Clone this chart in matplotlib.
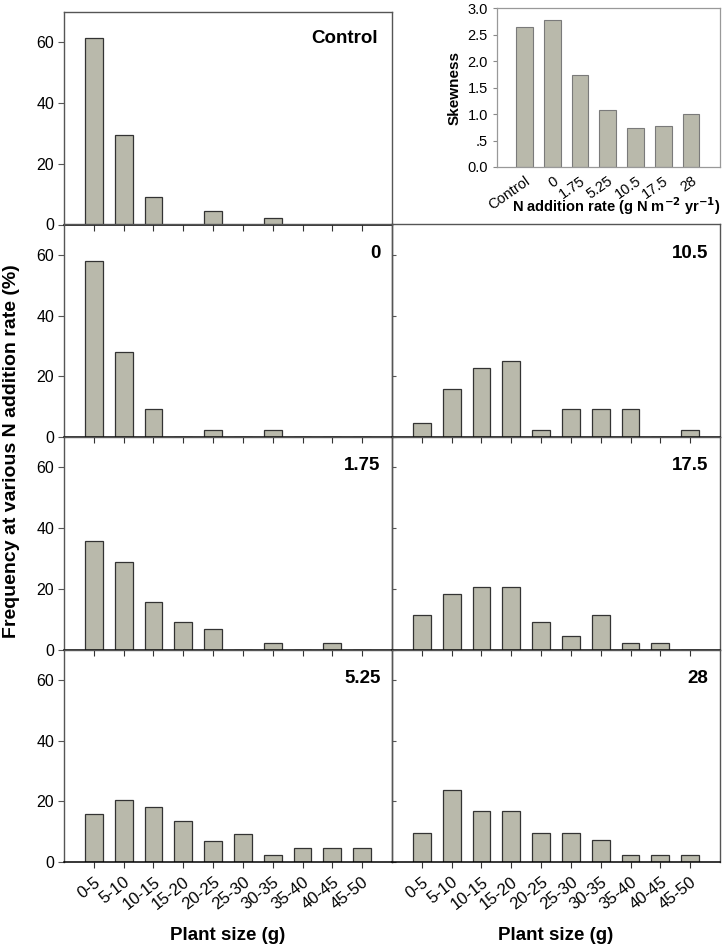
import matplotlib
matplotlib.use("Agg")
import matplotlib.pyplot as plt
import numpy as np

plt.rcParams['font.family'] = ['Liberation Sans', 'DejaVu Sans']

size_classes = ["0-5", "5-10", "10-15", "15-20", "20-25", "25-30",
                "30-35", "35-40", "40-45", "45-50"]

freq_control = [61.4, 29.5, 9.1, 0, 4.5, 0, 2.3, 0, 0, 0]
freq_0 = [58.1, 27.9, 9.3, 0, 2.3, 0, 2.3, 0, 0, 0]
freq_1_75 = [35.6, 28.9, 15.6, 8.9, 6.7, 0, 2.2, 0, 2.2, 0]
freq_5_25 = [15.9, 20.5, 18.2, 13.6, 6.8, 9.1, 2.3, 4.5, 4.5, 4.5]
freq_10_5 = [4.5, 15.9, 22.7, 25.0, 2.3, 9.1, 9.1, 9.1, 0, 2.3]
freq_17_5 = [11.4, 18.2, 20.5, 20.5, 9.1, 4.5, 11.4, 2.3, 2.3, 0]
freq_28 = [9.5, 23.8, 16.7, 16.7, 9.5, 9.5, 7.1, 2.4, 2.4, 2.4]

n_rates = ["Control", "0", "1.75", "5.25", "10.5", "17.5", "28"]
skewness = [2.65, 2.77, 1.74, 1.08, 0.74, 0.77, 1.01]

bar_color = '#b9b9ab'
W, H = 724, 950
fig = plt.figure(figsize=(W / 100, H / 100), dpi=100)

def px_axes(x0, y0, x1, y1):
    return fig.add_axes([x0 / W, 1 - y1 / H, (x1 - x0) / W, (y1 - y0) / H])

rows = [12, 224.5, 437, 649.5, 862]
left_x = (64, 392)
right_x = (392, 720)

panels = [
    (0, 0, freq_control, "Control"),
    (1, 0, freq_0, "0"),
    (2, 0, freq_1_75, "1.75"),
    (3, 0, freq_5_25, "5.25"),
    (1, 1, freq_10_5, "10.5"),
    (2, 1, freq_17_5, "17.5"),
    (3, 1, freq_28, "28"),
]

xpos = np.arange(len(size_classes))
for r, c, vals, lab in panels:
    xs = left_x if c == 0 else right_x
    ax = px_axes(xs[0], rows[r], xs[1], rows[r + 1])
    ax.patch.set_visible(False)
    ax.bar(xpos, vals, width=0.6, color=bar_color, edgecolor='#333333',
           linewidth=0.9, zorder=2)
    ax.set_xlim(-1, 10)
    ax.set_ylim(0, 70)
    ax.set_yticks([0, 20, 40, 60])
    ax.set_xticks(xpos)
    for s in ['left', 'right', 'top']:
        ax.spines[s].set_color('#555555')
        ax.spines[s].set_linewidth(1.0)
    ax.spines['bottom'].set_color('black')
    ax.spines['bottom'].set_linewidth(1.1)
    if c == 0:
        ax.tick_params(axis='y', direction='out', length=4, labelsize=11.5,
                       colors='#555555', labelcolor='black', width=0.8, pad=3)
    else:
        ax.tick_params(axis='y', direction='in', length=3, labelleft=False,
                       colors='#555555', width=0.8)
    ax.tick_params(axis='x', direction='out', length=4, width=0.8,
                   colors='#333333', labelcolor='black')
    if r == 3:
        ax.set_xticklabels(size_classes, rotation=38, ha='right',
                           rotation_mode='anchor', fontsize=12)
        ax.tick_params(axis='x', pad=5)
        fig.text((xs[0] + xs[1]) / 2 / W, 1 - 935.5 / H, "Plant size (g)",
                 ha='center', va='center', fontsize=13.5, fontweight='bold')
    else:
        ax.set_xticklabels([])
    if r == 0:
        ax.text(0.956, 0.875, lab, transform=ax.transAxes, ha='right',
                va='center', fontsize=13.5, fontweight='bold')
    else:
        ax.text(0.965, 0.865, lab, transform=ax.transAxes, ha='right',
                va='center', fontsize=13.5, fontweight='bold')

fig.text(12 / W, 1 - 451 / H, "Frequency at various N addition rate (%)",
         rotation=90, ha='center', va='center', fontsize=14,
         fontweight='bold')

# inset
axi = px_axes(497, 8.3, 720, 167)
ipos = np.arange(len(n_rates))
axi.bar(ipos, skewness, width=0.6, color=bar_color, edgecolor='#7a7a7a',
        linewidth=0.8, zorder=2)
axi.set_xlim(-1, 7.05)
axi.set_ylim(0, 3.0)
axi.set_yticks([0, 0.5, 1.0, 1.5, 2.0, 2.5, 3.0])
axi.set_yticklabels(["0.0", ".5", "1.0", "1.5", "2.0", "2.5", "3.0"])
axi.set_xticks(ipos)
axi.set_xticklabels(n_rates, rotation=35, ha='right', rotation_mode='anchor',
                    fontsize=10.5)
axi.tick_params(axis='y', direction='out', length=3, labelsize=10.5,
                colors='#888888', labelcolor='black', width=0.8)
axi.tick_params(axis='x', length=0, pad=5)
for s in axi.spines.values():
    s.set_color('#999999')
    s.set_linewidth(0.9)
axi.set_ylabel("Skewness", fontsize=11, fontweight='bold', labelpad=4)
fig.text(616 / W, 1 - 206 / H,
         r"N addition rate (g N m$^{\mathbf{-2}}$ yr$^{\mathbf{-1}}$)",
         ha='center', va='center', fontsize=10.5, fontweight='bold')

fig.savefig("out.png", dpi=100)
